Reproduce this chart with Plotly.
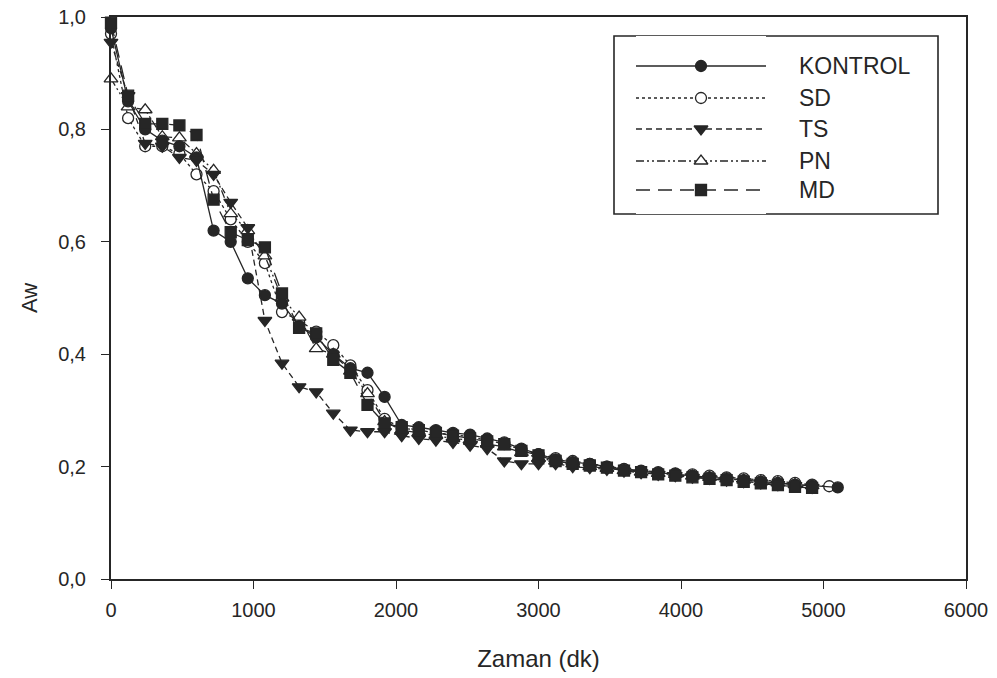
import plotly.graph_objects as go

# ---------------- data ----------------
TIME = [0, 120, 240, 360, 480, 600, 720, 840, 960, 1080, 1200, 1320, 1440, 1560, 1680,
        1800, 1920, 2040, 2160, 2280, 2400, 2520, 2640, 2760, 2880, 3000, 3120, 3240,
        3360, 3480, 3600, 3720, 3840, 3960, 4080, 4200, 4320, 4440, 4560, 4680, 4800,
        4920, 5040]
TIME_KONTROL = TIME[:-1] + [5100]

KONTROL = [0.98, 0.85, 0.80, 0.78, 0.77, 0.75, 0.62, 0.60, 0.535, 0.505, 0.49, 0.45, 0.43,
           0.40, 0.375, 0.367, 0.324, 0.274, 0.27, 0.265, 0.26, 0.257, 0.25, 0.243, 0.232,
           0.222, 0.213, 0.208, 0.205, 0.20, 0.195, 0.192, 0.189, 0.187, 0.184, 0.181,
           0.179, 0.176, 0.173, 0.171, 0.168, 0.166, 0.163]
SD = [0.97, 0.82, 0.77, 0.77, 0.757, 0.72, 0.69, 0.64, 0.60, 0.562, 0.475, 0.46, 0.44,
      0.416, 0.38, 0.336, 0.285, 0.268, 0.265, 0.26, 0.257, 0.253, 0.247, 0.24, 0.23,
      0.222, 0.215, 0.21, 0.205, 0.20, 0.196, 0.193, 0.19, 0.188, 0.186, 0.184, 0.181,
      0.179, 0.176, 0.174, 0.171, 0.168, 0.165]
TS = [0.955, 0.86, 0.775, 0.77, 0.75, 0.745, 0.72, 0.67, 0.625, 0.46, 0.384, 0.342, 0.333,
      0.295, 0.265, 0.262, 0.262, 0.255, 0.25, 0.247, 0.243, 0.238, 0.232, 0.21, 0.205,
      0.205, 0.205, 0.20, 0.198, 0.195, 0.192, 0.189, 0.186, 0.184, 0.181, 0.179, 0.176,
      0.173, 0.171, 0.168, 0.166, 0.163]
PN = [0.89, 0.84, 0.835, 0.787, 0.785, 0.757, 0.727, 0.65, 0.62, 0.575, 0.50, 0.466, 0.41,
      0.40, 0.37, 0.33, 0.28, 0.265, 0.26, 0.255, 0.25, 0.247, 0.24, 0.235, 0.225, 0.215,
      0.21, 0.205, 0.20, 0.197, 0.193, 0.19, 0.188, 0.186, 0.183, 0.181, 0.178, 0.176,
      0.173, 0.171, 0.168, 0.166]
MD = [0.99, 0.86, 0.81, 0.81, 0.807, 0.79, 0.675, 0.617, 0.603, 0.59, 0.508, 0.447, 0.437,
      0.39, 0.367, 0.31, 0.277, 0.27, 0.265, 0.26, 0.255, 0.25, 0.245, 0.24, 0.228, 0.22,
      0.21, 0.205, 0.202, 0.198, 0.193, 0.19, 0.186, 0.184, 0.181, 0.178, 0.176, 0.173,
      0.17, 0.167, 0.164, 0.162]

X_TICKS = [0, 1000, 2000, 3000, 4000, 5000, 6000]
Y_TICKS = [0.0, 0.2, 0.4, 0.6, 0.8, 1.0]
Y_TICKTEXT = ["0,0", "0,2", "0,4", "0,6", "0,8", "1,0"]

# ---------------- styles ----------------
INK = "#262626"
FONT = "Liberation Sans, Arial, sans-serif"

series = [
    # name, x, y, symbol, fill, dash, size
    ("SD", TIME, SD, "circle", "white", "dot", 11),
    ("PN", TIME, PN, "triangle-up", "white", "8px,3px,2px,3px,2px,3px", 12),
    ("KONTROL", TIME_KONTROL, KONTROL, "circle", INK, "solid", 11),
    ("TS", TIME, TS, "triangle-down", INK, "6px,4px", 12),
    ("MD", TIME, MD, "square", INK, "14px,8px", 11),
]

fig = go.Figure()
for name, xs, ys, sym, fill, dash, size in series:
    fig.add_trace(go.Scatter(
        x=xs[:len(ys)], y=ys, name=name, mode="lines+markers",
        line=dict(color=INK, width=1.3, dash=dash),
        marker=dict(symbol=sym, size=size, color=fill, line=dict(color=INK, width=1.3)),
        cliponaxis=False, showlegend=False,
        xaxis="x", yaxis="y",
    ))

# ---------------- legend (drawn on an auxiliary axis pair) ----------------
legend_order = ["KONTROL", "SD", "TS", "PN", "MD"]
legend_rows = [66, 98, 129, 161, 190]  # pixel rows inside legend box
style = {s[0]: s for s in series}
for name, row in zip(legend_order, legend_rows):
    _, _, _, sym, fill, dash, size = style[name]
    fig.add_trace(go.Scatter(
        x=[0, 1], y=[row, row], mode="lines",
        line=dict(color=INK, width=1.3, dash=dash),
        xaxis="x2", yaxis="y2", showlegend=False, hoverinfo="skip",
    ))
    fig.add_trace(go.Scatter(
        x=[0.5], y=[row], mode="markers",
        marker=dict(symbol=sym, size=size, color=fill, line=dict(color=INK, width=1.3)),
        xaxis="x2", yaxis="y2", showlegend=False, hoverinfo="skip", cliponaxis=False,
    ))

L, R, T, B = 111, 31, 17, 99
W, H = 997, 678
PW, PH = W - L - R, H - T - B


def px_x(p):
    return (p - L) / PW


def px_y(p):
    return (H - B - p) / PH


annotations = []
for name, row in zip(legend_order, legend_rows):
    annotations.append(dict(
        text=name, x=px_x(797), y=px_y(row), xref="paper", yref="paper",
        xanchor="left", yanchor="middle", showarrow=False,
        font=dict(family=FONT, size=23, color=INK),
    ))

shapes = [dict(
    type="rect", xref="paper", yref="paper",
    x0=px_x(614), x1=px_x(938), y0=px_y(214), y1=px_y(36),
    line=dict(color=INK, width=1.6), fillcolor="rgba(0,0,0,0)", layer="below",
)]

fig.update_layout(
    width=W, height=H,
    margin=dict(l=L, r=R, t=T, b=B, autoexpand=False),
    paper_bgcolor="white", plot_bgcolor="white",
    font=dict(family=FONT, color=INK, size=18),
    annotations=annotations, shapes=shapes,
    xaxis=dict(
        range=[0, 6000], tickvals=X_TICKS, ticks="outside", ticklen=8, tickwidth=1.3,
        tickcolor=INK, showgrid=False, zeroline=False, showline=True, linecolor=INK,
        linewidth=2, mirror=True, tickfont=dict(size=20), ticklabelstandoff=4,
        title=dict(text="Zaman (dk)", font=dict(size=24), standoff=30),
    ),
    yaxis=dict(
        range=[0, 1.0], tickvals=Y_TICKS, ticktext=Y_TICKTEXT, ticks="outside", ticklen=8,
        tickwidth=1.3, tickcolor=INK, showgrid=False, zeroline=False, showline=True,
        linecolor=INK, linewidth=2, mirror=True, tickfont=dict(size=20),
        ticklabelstandoff=11,
        title=dict(text="Aw", font=dict(size=22), standoff=14),
    ),
    xaxis2=dict(domain=[px_x(636), px_x(766)], range=[0, 1], visible=False,
                anchor="y2", fixedrange=True),
    yaxis2=dict(domain=[px_y(214), px_y(36)], range=[214, 36], visible=False,
                anchor="x2", fixedrange=True),
    hovermode=False,
)

fig.write_html("out.html")
